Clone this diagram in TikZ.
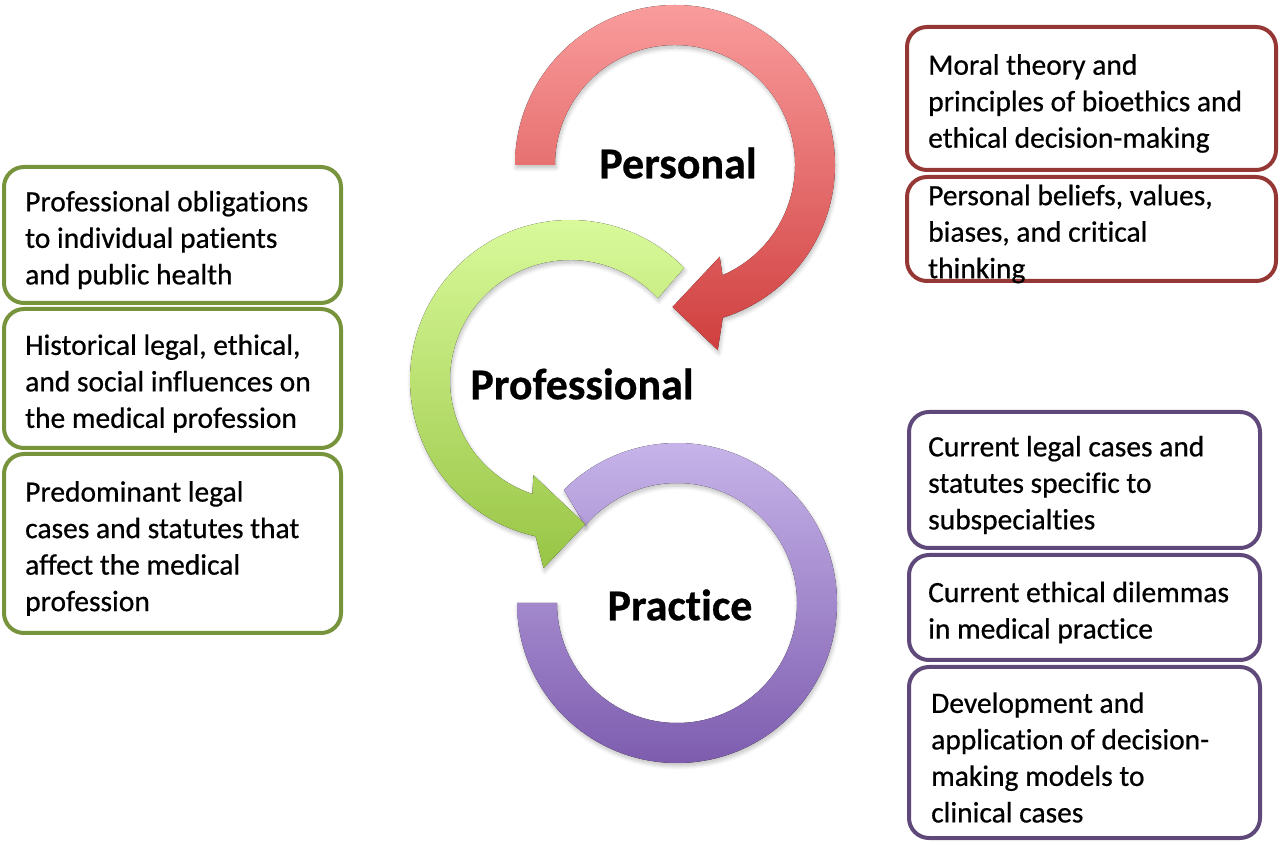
\documentclass[tikz,border=0pt]{standalone}
\usepackage{fontspec}
\setmainfont{Carlito}[Ligatures=NoCommon, FakeBold=0.6]
\usetikzlibrary{shadows.blur}
\definecolor{gborder}{HTML}{77933C}
\definecolor{rborder}{HTML}{953735}
\definecolor{pborder}{HTML}{5F497A}
\definecolor{rtop}{HTML}{FA9C9C}
\definecolor{rbot}{HTML}{D03F3F}
\definecolor{gtop}{HTML}{DCFC9E}
\definecolor{gbot}{HTML}{98C545}
\definecolor{ptop}{HTML}{CAB8EC}
\definecolor{pbot}{HTML}{7A58AC}
\tikzset{
  infobox/.style={draw, line width=4pt, rounded corners=20pt, fill=white, minimum width=#1, inner sep=0pt},
  boxtext/.style={anchor=west, align=left, inner sep=0pt, yshift=-5pt, font=\fontsize{29.5}{36.5}\selectfont},
  ringlabel/.style={font=\fontsize{44}{52}\selectfont\bfseries, inner sep=0pt},
  ringshadow/.style={blur shadow={shadow xshift=1pt, shadow yshift=-3pt, shadow blur steps=6, shadow blur radius=4pt, shadow opacity=25}},
}
\begin{document}
\begin{tikzpicture}[x=1pt,y=1pt]
\useasboundingbox (0,0) rectangle (1280,844);
% ---- rings ----
% Practice (purple), no arrowhead
\coordinate (cpr) at (677,241);
\fill[ringshadow, top color=ptop, bottom color=pbot, shift={(cpr)}]
  (135:160) arc[start angle=135, end angle=-180, radius=160]
  -- (180:120) arc[start angle=-180, end angle=140, radius=120] -- cycle;
% Professional (green)
\coordinate (cpf) at (570,464);
\fill[ringshadow, top color=gtop, bottom color=gbot, shift={(cpf)}]
  (44.5:160) arc[start angle=44.5, end angle=257.6, radius=160]
  -- (262:190) -- (276:145) -- (249:102) -- (251.7:120)
  arc[start angle=251.7, end angle=43, radius=120] -- cycle;
% Personal (red)
\coordinate (cps) at (675,679);
\fill[ringshadow, top color=rtop, bottom color=rbot, shift={(cps)}]
  (180:160) arc[start angle=180, end angle=-72.6, radius=160]
  -- (-77:190) -- (-91:142) -- (-64:102) -- (-66.7:120)
  arc[start angle=-66.7, end angle=180, radius=120] -- cycle;
\node[ringlabel] (lps) at (678,681) {Personal};
\node[ringlabel] (lpf) at (582,460) {Professional};
\node[ringlabel] (lpr) at (680,239) {Practice};
% ---- left boxes (professional) ----
\node[infobox=337pt, draw=gborder, minimum height=136pt] (g1) at (172.5,609) {};
\node[infobox=337pt, draw=gborder, minimum height=139pt] (g2) at (172.5,465.5) {};
\node[infobox=337pt, draw=gborder, minimum height=179pt] (g3) at (172.5,300.5) {};
\node[boxtext] (tg1) at ([xshift=23pt]g1.west) {Professional obligations\\to individual patients\\and public health};
\node[boxtext] (tg2) at ([xshift=23pt]g2.west) {Historical legal, ethical,\\and social influences on\\the medical profession};
\node[boxtext] (tg3) at ([xshift=23pt]g3.west) {Predominant legal\\cases and statutes that\\affect the medical\\profession};
% ---- right top boxes (personal) ----
\node[infobox=369pt, draw=rborder, minimum height=143pt] (r1) at (1091.5,745.5) {};
\node[infobox=369pt, draw=rborder, minimum height=104pt] (r2) at (1091.5,615) {};
\node[boxtext] (tr1) at ([xshift=23pt]r1.west) {Moral theory and\\principles of bioethics and\\ethical decision-making};
\node[boxtext] (tr2) at ([xshift=23pt]r2.west) {Personal beliefs, values,\\biases, and critical\\thinking};
% ---- right bottom boxes (practice) ----
\node[infobox=351pt, draw=pborder, minimum height=136pt] (p1) at (1084.5,364) {};
\node[infobox=351pt, draw=pborder, minimum height=105pt] (p2) at (1084.5,236.5) {};
\node[infobox=351pt, draw=pborder, minimum height=171pt] (p3) at (1084.5,91.5) {};
\node[boxtext] (tp1) at ([xshift=21pt]p1.west) {Current legal cases and\\statutes specific to\\subspecialties};
\node[boxtext] (tp2) at ([xshift=21pt]p2.west) {Current ethical dilemmas\\in medical practice};
\node[boxtext] (tp3) at ([xshift=24pt]p3.west) {Development and\\application of decision-\\making models to\\clinical cases};
\end{tikzpicture}
\end{document}
